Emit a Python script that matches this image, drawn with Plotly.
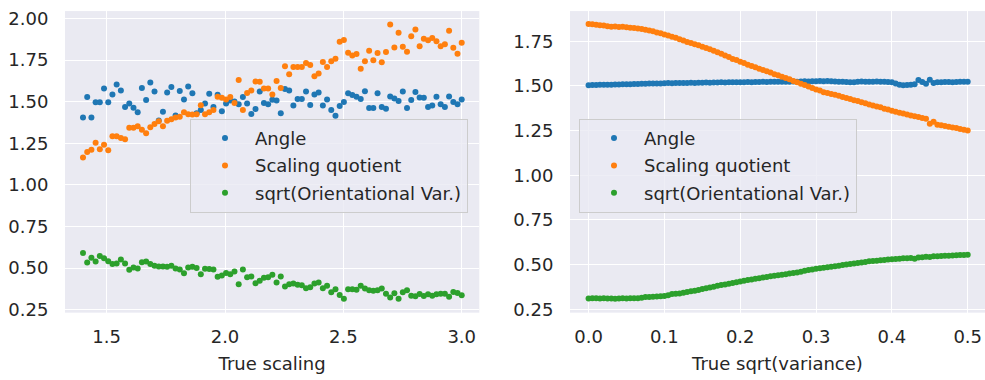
import numpy as np
import plotly.graph_objects as go

# ---- left panel: estimates vs. true scaling ----
true_scaling = np.linspace(1.4, 3.0, 91)

angle_left = [
    1.405, 1.528, 1.405, 1.497, 1.497, 1.579, 1.497, 1.544, 1.604, 1.567,
    1.468, 1.489, 1.464, 1.436, 1.583, 1.510, 1.616, 1.561, 1.387, 1.440,
    1.555, 1.589, 1.417, 1.565, 1.514, 1.592, 1.551, 1.430, 1.450, 1.489,
    1.548, 1.469, 1.542, 1.442, 1.489, 1.508, 1.501, 1.485, 1.528, 1.489,
    1.426, 1.456, 1.561, 1.493, 1.485, 1.512, 1.508, 1.431, 1.577, 1.567,
    1.477, 1.516, 1.516, 1.561, 1.481, 1.544, 1.555, 1.477, 1.514, 1.450,
    1.415, 1.475, 1.499, 1.551, 1.540, 1.530, 1.516, 1.563, 1.462, 1.462,
    1.551, 1.469, 1.458, 1.532, 1.520, 1.504, 1.561, 1.462, 1.510, 1.559,
    1.526, 1.524, 1.469, 1.477, 1.530, 1.485, 1.469, 1.532, 1.499, 1.485,
    1.514,
]

scaling_left = [
    1.165, 1.198, 1.212, 1.253, 1.214, 1.241, 1.208, 1.292, 1.292, 1.282,
    1.274, 1.343, 1.343, 1.353, 1.331, 1.311, 1.347, 1.366, 1.382, 1.353,
    1.386, 1.395, 1.405, 1.409, 1.436, 1.425, 1.423, 1.425, 1.479, 1.425,
    1.436, 1.450, 1.530, 1.524, 1.514, 1.528, 1.493, 1.631, 1.450, 1.553,
    1.567, 1.621, 1.620, 1.580, 1.580, 1.544, 1.624, 1.583, 1.713, 1.665,
    1.709, 1.709, 1.709, 1.733, 1.721, 1.653, 1.670, 1.739, 1.709, 1.743,
    1.758, 1.860, 1.871, 1.795, 1.778, 1.787, 1.698, 1.743, 1.807, 1.750,
    1.793, 1.737, 1.799, 1.965, 1.826, 1.914, 1.830, 1.801, 1.893, 1.934,
    1.834, 1.879, 1.869, 1.883, 1.864, 1.834, 1.846, 1.926, 1.824, 1.788,
    1.854,
]

orient_left = [
    0.590, 0.533, 0.562, 0.539, 0.572, 0.559, 0.541, 0.524, 0.527, 0.551,
    0.527, 0.490, 0.504, 0.498, 0.535, 0.539, 0.524, 0.514, 0.510, 0.510,
    0.508, 0.514, 0.498, 0.492, 0.469, 0.504, 0.508, 0.500, 0.463, 0.496,
    0.494, 0.492, 0.448, 0.455, 0.471, 0.463, 0.479, 0.403, 0.492, 0.445,
    0.449, 0.408, 0.424, 0.442, 0.445, 0.459, 0.413, 0.449, 0.389, 0.403,
    0.407, 0.399, 0.397, 0.379, 0.385, 0.407, 0.413, 0.379, 0.393, 0.354,
    0.373, 0.338, 0.315, 0.373, 0.372, 0.369, 0.393, 0.377, 0.367, 0.363,
    0.367, 0.377, 0.346, 0.323, 0.348, 0.315, 0.354, 0.367, 0.334, 0.331,
    0.344, 0.332, 0.342, 0.334, 0.342, 0.346, 0.346, 0.328, 0.356, 0.350,
    0.336,
]

# ---- right panel: estimates vs. true sqrt(variance) ----
true_sd = np.linspace(0.0, 0.5, 101)

angle_right = [
    1.504, 1.505, 1.505, 1.506, 1.506, 1.507, 1.507, 1.508, 1.508, 1.509,
    1.510, 1.510, 1.511, 1.511, 1.512, 1.512, 1.513, 1.513, 1.514, 1.514,
    1.515, 1.516, 1.515, 1.516, 1.517, 1.516, 1.517, 1.518, 1.517, 1.518,
    1.518, 1.519, 1.518, 1.519, 1.519, 1.520, 1.519, 1.520, 1.521, 1.520,
    1.521, 1.521, 1.522, 1.521, 1.522, 1.522, 1.523, 1.522, 1.523, 1.523,
    1.524, 1.523, 1.524, 1.524, 1.525, 1.524, 1.525, 1.526, 1.525, 1.526,
    1.526, 1.527, 1.526, 1.527, 1.526, 1.525, 1.524, 1.523, 1.522, 1.521,
    1.520, 1.524, 1.525, 1.524, 1.523, 1.524, 1.525, 1.524, 1.523, 1.522,
    1.520, 1.514, 1.506, 1.504, 1.505, 1.506, 1.510, 1.533, 1.522, 1.512,
    1.534, 1.516, 1.520, 1.521, 1.522, 1.522, 1.521, 1.522, 1.523, 1.523,
    1.524,
]

scaling_right = [
    1.846, 1.845, 1.843, 1.840, 1.838, 1.834, 1.831, 1.832, 1.830, 1.831,
    1.829, 1.826, 1.824, 1.822, 1.818, 1.815, 1.810, 1.806, 1.799, 1.795,
    1.788, 1.782, 1.775, 1.770, 1.762, 1.755, 1.746, 1.740, 1.733, 1.728,
    1.719, 1.712, 1.705, 1.697, 1.689, 1.680, 1.670, 1.662, 1.651, 1.645,
    1.635, 1.628, 1.619, 1.611, 1.604, 1.596, 1.589, 1.582, 1.575, 1.566,
    1.560, 1.551, 1.544, 1.537, 1.528, 1.521, 1.512, 1.505, 1.497, 1.489,
    1.480, 1.474, 1.464, 1.460, 1.455, 1.450, 1.445, 1.438, 1.432, 1.427,
    1.420, 1.415, 1.408, 1.403, 1.396, 1.391, 1.385, 1.380, 1.372, 1.368,
    1.361, 1.356, 1.350, 1.345, 1.340, 1.335, 1.330, 1.326, 1.320, 1.316,
    1.289, 1.300, 1.283, 1.280, 1.276, 1.272, 1.268, 1.264, 1.259, 1.255,
    1.250,
]

orient_right = [
    0.310, 0.312, 0.311, 0.310, 0.311, 0.310, 0.310, 0.309, 0.310, 0.311,
    0.310, 0.311, 0.311, 0.312, 0.314, 0.318, 0.319, 0.320, 0.321, 0.322,
    0.324, 0.328, 0.335, 0.336, 0.338, 0.342, 0.346, 0.350, 0.354, 0.358,
    0.363, 0.367, 0.372, 0.376, 0.381, 0.385, 0.389, 0.393, 0.397, 0.401,
    0.405, 0.410, 0.414, 0.417, 0.421, 0.424, 0.428, 0.431, 0.434, 0.437,
    0.440, 0.443, 0.446, 0.450, 0.453, 0.456, 0.460, 0.465, 0.470, 0.473,
    0.476, 0.479, 0.482, 0.485, 0.488, 0.491, 0.494, 0.497, 0.500, 0.503,
    0.506, 0.509, 0.512, 0.515, 0.518, 0.520, 0.522, 0.524, 0.526, 0.528,
    0.530, 0.531, 0.533, 0.535, 0.536, 0.537, 0.533, 0.539, 0.541, 0.544,
    0.542, 0.546, 0.547, 0.548, 0.549, 0.550, 0.551, 0.552, 0.553, 0.554,
    0.555,
]

series_names = ["Angle", "Scaling quotient", "sqrt(Orientational Var.)"]
colors = ["#1f77b4", "#ff7f0e", "#2ca02c"]

W, H = 985, 380
FONT = "DejaVu Sans"
FS = 18
TEXT = "#262626"
BG = "#EAEAF2"
MARKER_SIZE = 6

fig = go.Figure()

for k, (name, color, ys) in enumerate(zip(series_names, colors, [angle_left, scaling_left, orient_left])):
    fig.add_trace(go.Scatter(
        x=true_scaling, y=ys, mode="markers", name=name,
        marker=dict(color=color, size=MARKER_SIZE, line=dict(width=0)),
        xaxis="x", yaxis="y", legend="legend", legendgroup=f"L{k}",
    ))

for k, (name, color, ys) in enumerate(zip(series_names, colors, [angle_right, scaling_right, orient_right])):
    fig.add_trace(go.Scatter(
        x=true_sd, y=ys, mode="markers", name=name,
        marker=dict(color=color, size=MARKER_SIZE, line=dict(width=0)),
        xaxis="x2", yaxis="y2", legend="legend2", legendgroup=f"R{k}",
    ))

tickfont = dict(family=FONT, size=FS, color=TEXT)
axis_common = dict(
    showgrid=True, gridcolor="white", gridwidth=1.3,
    zeroline=False, showline=False,
    ticks="outside", tickcolor="rgba(0,0,0,0)",
    tickfont=tickfont,
)

y_dom = [1 - 318 / H, 1 - 8.3 / H]

legend_common = dict(
    bgcolor="rgba(234,234,242,0.8)",
    bordercolor="#cccccc", borderwidth=1,
    font=dict(family=FONT, size=FS, color=TEXT),
    xanchor="left", yanchor="top",
    itemwidth=50, indentation=4, tracegroupgap=1,
)

title_font = dict(family=FONT, size=FS, color=TEXT)

fig.update_layout(
    width=W, height=H,
    margin=dict(l=0, r=0, t=0, b=0),
    paper_bgcolor="white", plot_bgcolor=BG,
    font=dict(family=FONT, size=FS, color=TEXT),
    xaxis=dict(
        axis_common, domain=[65 / W, 479.3 / W], anchor="y",
        range=[1.324, 3.0743], tickvals=[1.5, 2.0, 2.5, 3.0], tickformat=".1f",
        ticklen=8,
        title=dict(text="True scaling", font=title_font, standoff=11),
    ),
    yaxis=dict(
        axis_common, domain=y_dom, anchor="x",
        range=[0.232, 2.045], tickvals=[0.25, 0.5, 0.75, 1.0, 1.25, 1.5, 1.75, 2.0],
        tickformat=".2f", ticklen=12,
    ),
    xaxis2=dict(
        axis_common, domain=[570 / W, 1.0], anchor="y2",
        range=[-0.0245, 0.5228], tickvals=[0.0, 0.1, 0.2, 0.3, 0.4, 0.5], tickformat=".1f",
        ticklen=8,
        title=dict(text="True sqrt(variance)", font=title_font, standoff=11),
    ),
    yaxis2=dict(
        axis_common, domain=y_dom, anchor="x2",
        range=[0.231, 1.919], tickvals=[0.25, 0.5, 0.75, 1.0, 1.25, 1.5, 1.75],
        tickformat=".2f", ticklen=12,
    ),
    legend=dict(legend_common, x=190 / W, y=1 - 119 / H),
    legend2=dict(legend_common, x=579 / W, y=1 - 119 / H),
)

fig.write_html("out.html")
